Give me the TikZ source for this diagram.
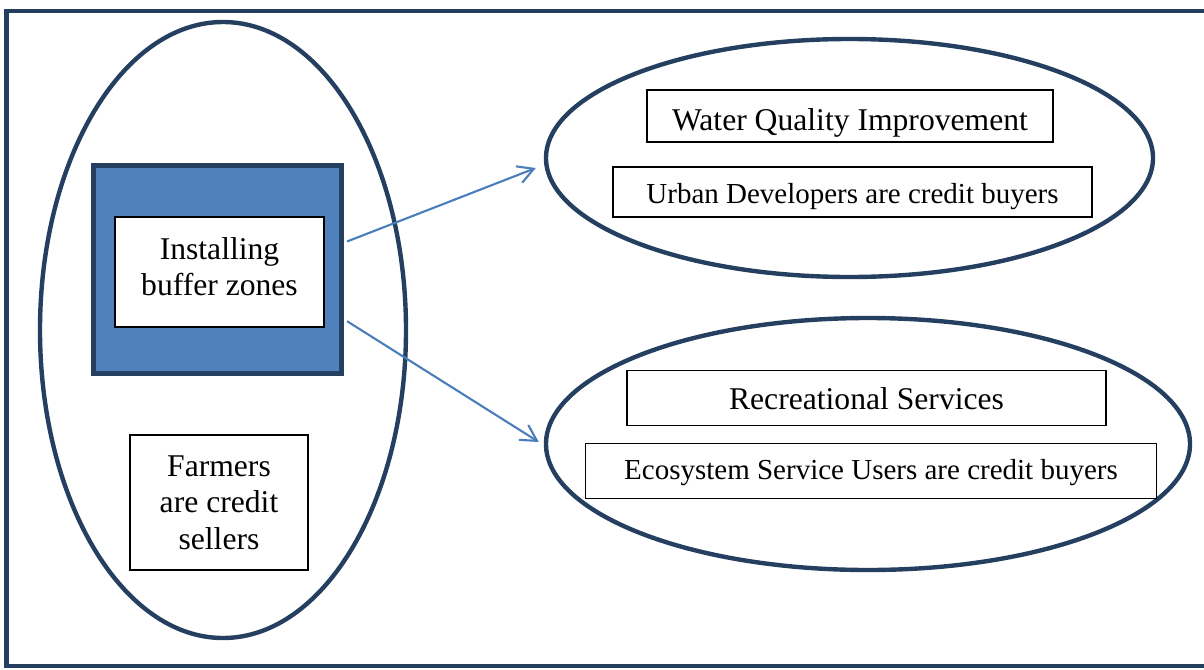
\documentclass[tikz,border=0pt]{standalone}
\usepackage{fontspec}
\setmainfont{Liberation Serif}
\usetikzlibrary{shapes.geometric,arrows.meta,calc}
\definecolor{navy}{HTML}{243F60}
\definecolor{accent}{HTML}{4F81BD}
\definecolor{arrowblue}{HTML}{4A7EBB}
\begin{document}
\begin{tikzpicture}[
  ring/.style={draw=navy,line width=2.5pt,ellipse,inner sep=0pt},
  tbox/.style={draw,line width=0.6pt,fill=white,inner sep=0pt,text height=16.5pt,text depth=3.8pt},
  big/.style={font=\fontsize{18}{20.7}\selectfont},
  small/.style={font=\fontsize{16.5}{19}\selectfont},
  flow/.style={draw=arrowblue,line width=1.2pt,-{Straight Barb[length=9pt,width=10pt]}}
]
\useasboundingbox (0,0) rectangle (24.08,13.38);
\draw[navy,line width=2.4pt] (0.13,0.06) rectangle (24.4,13.164);
% sellers side
\node[ring,minimum width=7.32cm,minimum height=12.32cm] (sell) at (4.46,6.78) {};
\node[draw=navy,fill=accent,line width=2.85pt,minimum width=4.97cm,minimum height=4.16cm] (bz) at (4.346,7.996) {};
\node[draw,fill=white,line width=0.6pt,big,align=center,text height=27.3pt,minimum width=4.18cm,minimum height=2.2cm] (inst) at (4.39,7.94) {Installing\\buffer zones};
\node[draw,fill=white,line width=0.6pt,big,align=center,minimum width=3.56cm,minimum height=2.7cm] (farm) at (4.38,3.33) {Farmers\\are credit\\sellers};
% buyers side
\node[ring,minimum width=12.14cm,minimum height=4.76cm] (wq) at (16.99,10.22) {};
\node[tbox,big,text height=19.8pt,minimum width=8.12cm,minimum height=1.04cm] (wqt) at (17.0,11.06) {Water Quality Improvement};
\node[tbox,small,minimum width=9.58cm,minimum height=1.0cm] (ud) at (17.05,9.54) {Urban Developers are credit buyers};
\node[ring,minimum width=12.88cm,minimum height=5.04cm] (rs) at (17.36,4.5) {};
\node[tbox,big,minimum width=9.58cm,minimum height=1.1cm] (rst) at (17.33,5.42) {Recreational Services};
\node[tbox,small,text height=14pt,minimum width=11.42cm,minimum height=1.1cm] (esu) at (17.42,3.96) {Ecosystem Service Users are credit buyers};
% links
\draw[flow] ($(bz.north east)!0.37!(bz.south east)+(0.06,0)$) -- ([shift={(-0.16,-0.2)}]wq.west);
\draw[flow] ($(bz.north east)!0.744!(bz.south east)+(0.06,0)$) -- ([shift={(-0.1,0.04)}]rs.west);
\end{tikzpicture}
\end{document}
